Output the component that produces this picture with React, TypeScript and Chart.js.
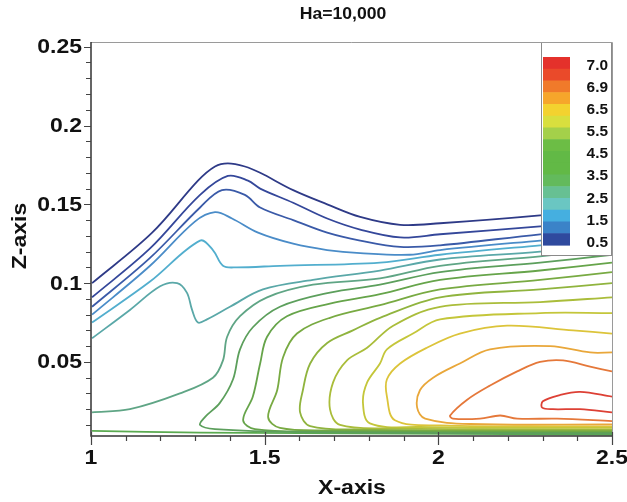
import React, { useEffect, useRef } from "react";
import { Chart, registerables } from "chart.js";
Chart.register(...registerables);

// ---------- text ----------
const titleText = "Ha=10,000";
const xAxisTitle = "X-axis";
const yAxisTitle = "Z-axis";

// ---------- axes ----------
const xMin = 1;
const xMax = 2.5;
const yMin = 0.003;
const yMax = 0.253;
const xMajorTicks = [1, 1.5, 2, 2.5];
const xTickLabels = ["1", "1.5", "2", "2.5"];
const xMinorTicks = [1.1, 1.2, 1.3, 1.4, 1.6, 1.7, 1.8, 1.9, 2.1, 2.2, 2.3, 2.4];
const yMajorTicks = [0.05, 0.1, 0.15, 0.2, 0.25];
const yTickLabels = ["0.05", "0.1", "0.15", "0.2", "0.25"];
const yMinorTicks = [
  0.01, 0.02, 0.03, 0.04, 0.06, 0.07, 0.08, 0.09, 0.11, 0.12, 0.13, 0.14,
  0.16, 0.17, 0.18, 0.19, 0.21, 0.22, 0.23, 0.24,
];

// ---------- legend ----------
const legendLabels = ["7.0", "6.9", "6.5", "5.5", "4.5", "3.5", "2.5", "1.5", "0.5"];
const legendBandColors = [
  "#e4312b", "#ea4a2a", "#f07a2a", "#f6a62b", "#f3d22f", "#d8df3e", "#a4d04a", "#6cbd45",
  "#62b946", "#62b946", "#63ba5c", "#67c093", "#6ac6c2", "#45afe0", "#3b83c8", "#2f4a9e",
];

// ---------- contour lines [x, z] ----------
const line1 = [[1.003,0.100],[1.176,0.132],[1.308,0.165],[1.357,0.174],[1.394,0.176],[1.443,0.174],[1.487,0.170],[1.582,0.159],[1.680,0.150],[1.775,0.142],[1.890,0.137],[2.005,0.138],[2.293,0.143],[2.5,0.148]];
const line2 = [[1.003,0.091],[1.170,0.122],[1.314,0.156],[1.394,0.168],[1.452,0.165],[1.487,0.160],[1.582,0.151],[1.680,0.141],[1.775,0.134],[1.890,0.129],[2.005,0.131],[2.293,0.136],[2.5,0.140]];
const line3 = [[1.003,0.085],[1.170,0.116],[1.314,0.148],[1.377,0.159],[1.443,0.156],[1.487,0.148],[1.582,0.140],[1.680,0.132],[1.775,0.127],[1.890,0.123],[2.005,0.124],[2.293,0.131],[2.5,0.135]];
const line4 = [[1.003,0.080],[1.170,0.111],[1.299,0.139],[1.357,0.145],[1.406,0.141],[1.481,0.132],[1.582,0.125],[1.680,0.121],[1.775,0.119],[1.918,0.118],[2.005,0.121],[2.293,0.127],[2.5,0.131]];
const line5 = [[1.003,0.075],[1.170,0.101],[1.314,0.127],[1.351,0.121],[1.380,0.111],[1.420,0.110],[1.544,0.111],[1.832,0.113],[2.005,0.118],[2.293,0.124],[2.5,0.128]];
const line6 = [[1.003,0.065],[1.112,0.083],[1.199,0.098],[1.248,0.100],[1.276,0.094],[1.291,0.083],[1.308,0.075],[1.334,0.077],[1.400,0.085],[1.495,0.096],[1.639,0.102],[1.832,0.108],[2.005,0.115],[2.293,0.120],[2.5,0.125]];
const line7 = [[1.003,0.018],[1.112,0.020],[1.256,0.030],[1.351,0.040],[1.380,0.051],[1.392,0.066],[1.429,0.079],[1.507,0.091],[1.639,0.099],[1.832,0.103],[2.005,0.111],[2.293,0.117],[2.5,0.122]];
const line8 = [[2.5,0.0046],[1.602,0.0055],[1.357,0.0074],[1.314,0.010],[1.328,0.015],[1.371,0.024],[1.409,0.039],[1.429,0.058],[1.466,0.072],[1.544,0.085],[1.688,0.094],[1.832,0.099],[2.005,0.107],[2.293,0.113],[2.5,0.118]];
const line9 = [[2.5,0.0052],[1.659,0.0059],[1.472,0.0074],[1.438,0.013],[1.466,0.028],[1.487,0.049],[1.507,0.066],[1.564,0.079],[1.688,0.087],[1.832,0.093],[2.005,0.102],[2.293,0.108],[2.5,0.113]];
const line10 = [[2.5,0.0059],[1.688,0.0065],[1.544,0.0081],[1.510,0.015],[1.536,0.032],[1.553,0.053],[1.593,0.068],[1.688,0.078],[1.832,0.086],[2.005,0.096],[2.293,0.102],[2.5,0.107]];
const line11 = [[2.5,0.0065],[1.775,0.0071],[1.631,0.0093],[1.602,0.018],[1.610,0.032],[1.631,0.049],[1.680,0.062],[1.754,0.070],[1.832,0.078],[2.005,0.091],[2.293,0.096],[2.5,0.100]];
const line12 = [[2.5,0.0071],[1.861,0.0078],[1.717,0.010],[1.688,0.020],[1.697,0.037],[1.737,0.051],[1.795,0.059],[1.870,0.073],[2.005,0.085],[2.293,0.088],[2.5,0.091]];
const line13 = [[2.5,0.0081],[1.947,0.0087],[1.803,0.011],[1.783,0.024],[1.795,0.037],[1.832,0.049],[1.852,0.058],[1.927,0.068],[2.005,0.077],[2.293,0.081],[2.5,0.081]];
const line14 = [[2.5,0.009],[2.005,0.0097],[1.875,0.013],[1.852,0.028],[1.852,0.039],[1.890,0.049],[1.967,0.059],[2.062,0.068],[2.198,0.073],[2.388,0.070],[2.5,0.068]];
const line15 = [[2.5,0.0103],[2.091,0.0106],[1.962,0.014],[1.939,0.021],[1.947,0.032],[1.985,0.040],[2.062,0.049],[2.149,0.058],[2.322,0.060],[2.437,0.056],[2.5,0.056]];
const line16 = [[2.5,0.0125],[2.342,0.014],[2.227,0.014],[2.178,0.016],[2.120,0.014],[2.042,0.014],[2.034,0.016],[2.083,0.026],[2.149,0.035],[2.227,0.044],[2.293,0.050],[2.359,0.051],[2.437,0.047],[2.5,0.044]];
const line17 = [[2.5,0.028],[2.408,0.031],[2.350,0.029],[2.301,0.025],[2.299,0.021],[2.330,0.020],[2.408,0.020],[2.5,0.018]];
const bottomLine = [[1.003,0.0062],[1.314,0.0052],[1.890,0.0046],[2.5,0.0039]];

const contourLines = [line1, line2, line3, line4, line5, line6, line7, line8, line9, line10, line11, line12, line13, line14, line15, line16, line17, bottomLine];
const contourColors = [
  "#2e3a87", "#34479a", "#3a5aa8", "#4a8cc8", "#52aece", "#5aa8a8", "#5fa585", "#5c9f5c",
  "#66a44a", "#78aa42", "#90b43e", "#aabd3a", "#c4c63a", "#dcc43a", "#e9a73a", "#e5783a",
  "#dd4035", "#5aaa50",
];

const FONT = '"Liberation Sans", Arial, sans-serif';

function drawText(ctx: CanvasRenderingContext2D, text: string, x: number, y: number, align: CanvasTextAlign, font: string, sx: number, rot = 0) {
  ctx.save();
  ctx.translate(x, y);
  if (rot) ctx.rotate(rot);
  ctx.scale(sx, 1);
  ctx.font = font;
  ctx.fillStyle = "#111";
  ctx.textAlign = align;
  ctx.textBaseline = "middle";
  ctx.fillText(text, 0, 0);
  ctx.restore();
}

const decorPlugin = {
  id: "decor",
  afterDatasetsDraw(chart: any) {
    const { ctx, chartArea } = chart;
    const { top, right } = chartArea;
    // legend box
    const bx = right - 71, by = top, bw = 71, bh = 214;
    ctx.save();
    ctx.fillStyle = "#ffffff";
    ctx.fillRect(bx, by, bw, bh);
    ctx.strokeStyle = "#8a8a8a";
    ctx.lineWidth = 1;
    ctx.strokeRect(bx + 0.5, by + 0.5, bw - 1, bh - 1);
    const barTop = top + 15, barBot = top + 203;
    const n = legendBandColors.length;
    const h = (barBot - barTop) / n;
    legendBandColors.forEach((c, i) => {
      ctx.fillStyle = c;
      ctx.fillRect(bx + 2, barTop + i * h, 27, h + 0.6);
    });
    const l0 = top + 24, l1 = top + 201;
    legendLabels.forEach((t, i) => {
      const yy = l0 + (i * (l1 - l0)) / (legendLabels.length - 1);
      drawText(ctx, t, right - 4, yy, "right", `bold 14px ${FONT}`, 1.1);
    });
    ctx.restore();
  },
  afterDraw(chart: any) {
    const { ctx, chartArea, scales } = chart;
    const { left, top, right, bottom } = chartArea;
    const xs = scales.x, ys = scales.y;
    ctx.save();
    // frame
    ctx.strokeStyle = "#9a9a9a";
    ctx.lineWidth = 1;
    ctx.beginPath();
    ctx.moveTo(left, top + 0.5);
    ctx.lineTo(right + 0.5, top + 0.5);
    ctx.lineTo(right + 0.5, bottom);
    ctx.stroke();
    ctx.strokeStyle = "#333";
    ctx.lineWidth = 1.5;
    ctx.beginPath();
    ctx.moveTo(left, top);
    ctx.lineTo(left, bottom);
    ctx.lineTo(right + 1, bottom);
    ctx.stroke();
    // ticks
    ctx.lineWidth = 1.2;
    ctx.strokeStyle = "#444";
    ctx.beginPath();
    yMinorTicks.forEach((v) => {
      const p = Math.round(ys.getPixelForValue(v)) + 0.5;
      ctx.moveTo(left - 5, p);
      ctx.lineTo(left, p);
    });
    yMajorTicks.forEach((v) => {
      const p = Math.round(ys.getPixelForValue(v)) + 0.5;
      ctx.moveTo(left - 7, p);
      ctx.lineTo(left, p);
    });
    xMinorTicks.forEach((v) => {
      const p = Math.round(xs.getPixelForValue(v)) + 0.5;
      ctx.moveTo(p, bottom);
      ctx.lineTo(p, bottom + 5);
    });
    xMajorTicks.forEach((v) => {
      const p = Math.round(xs.getPixelForValue(v)) + 0.5;
      ctx.moveTo(p, bottom - 4);
      ctx.lineTo(p, bottom + 9);
    });
    ctx.stroke();
    // tick labels
    const tf = `bold 20px ${FONT}`;
    yMajorTicks.forEach((v, i) => {
      drawText(ctx, yTickLabels[i], left - 9, ys.getPixelForValue(v) + 1, "right", tf, 1.15);
    });
    xMajorTicks.forEach((v, i) => {
      drawText(ctx, xTickLabels[i], xs.getPixelForValue(v), bottom + 22, "center", tf, 1.15);
    });
    // titles
    drawText(ctx, xAxisTitle, 352, 488, "center", `bold 20px ${FONT}`, 1.15);
    drawText(ctx, yAxisTitle, 20, 236, "center", `bold 20px ${FONT}`, 1.15, -Math.PI / 2);
    drawText(ctx, titleText, 343, 15, "center", `bold 16px ${FONT}`, 1.1);
    ctx.restore();
  },
};

export default function App() {
  const ref = useRef<HTMLCanvasElement>(null);
  useEffect(() => {
    const chart = new Chart(ref.current as HTMLCanvasElement, {
      type: "scatter",
      data: {
        datasets: contourLines.map((pts, i) => ({
          data: pts.map(([x, y]) => ({ x, y })),
          showLine: true,
          borderColor: contourColors[i],
          backgroundColor: contourColors[i],
          borderWidth: 1.8,
          pointRadius: 0,
          tension: 0.35,
          fill: false,
        })),
      },
      options: {
        animation: false,
        responsive: false,
        events: [],
        layout: { padding: { left: 91, top: 42, right: 15, bottom: 66 } },
        scales: {
          x: { type: "linear", min: xMin, max: xMax, display: false },
          y: { type: "linear", min: yMin, max: yMax, display: false },
        },
        plugins: {
          legend: { display: false },
          tooltip: { enabled: false },
          title: { display: false },
        },
      },
      plugins: [decorPlugin],
    });
    return () => chart.destroy();
  }, []);
  return (
    <div style={{ position: "fixed", left: 0, top: 0, width: 627, height: 502, background: "#fff" }}>
      <canvas ref={ref} width={627} height={502} style={{ display: "block" }} />
    </div>
  );
}
